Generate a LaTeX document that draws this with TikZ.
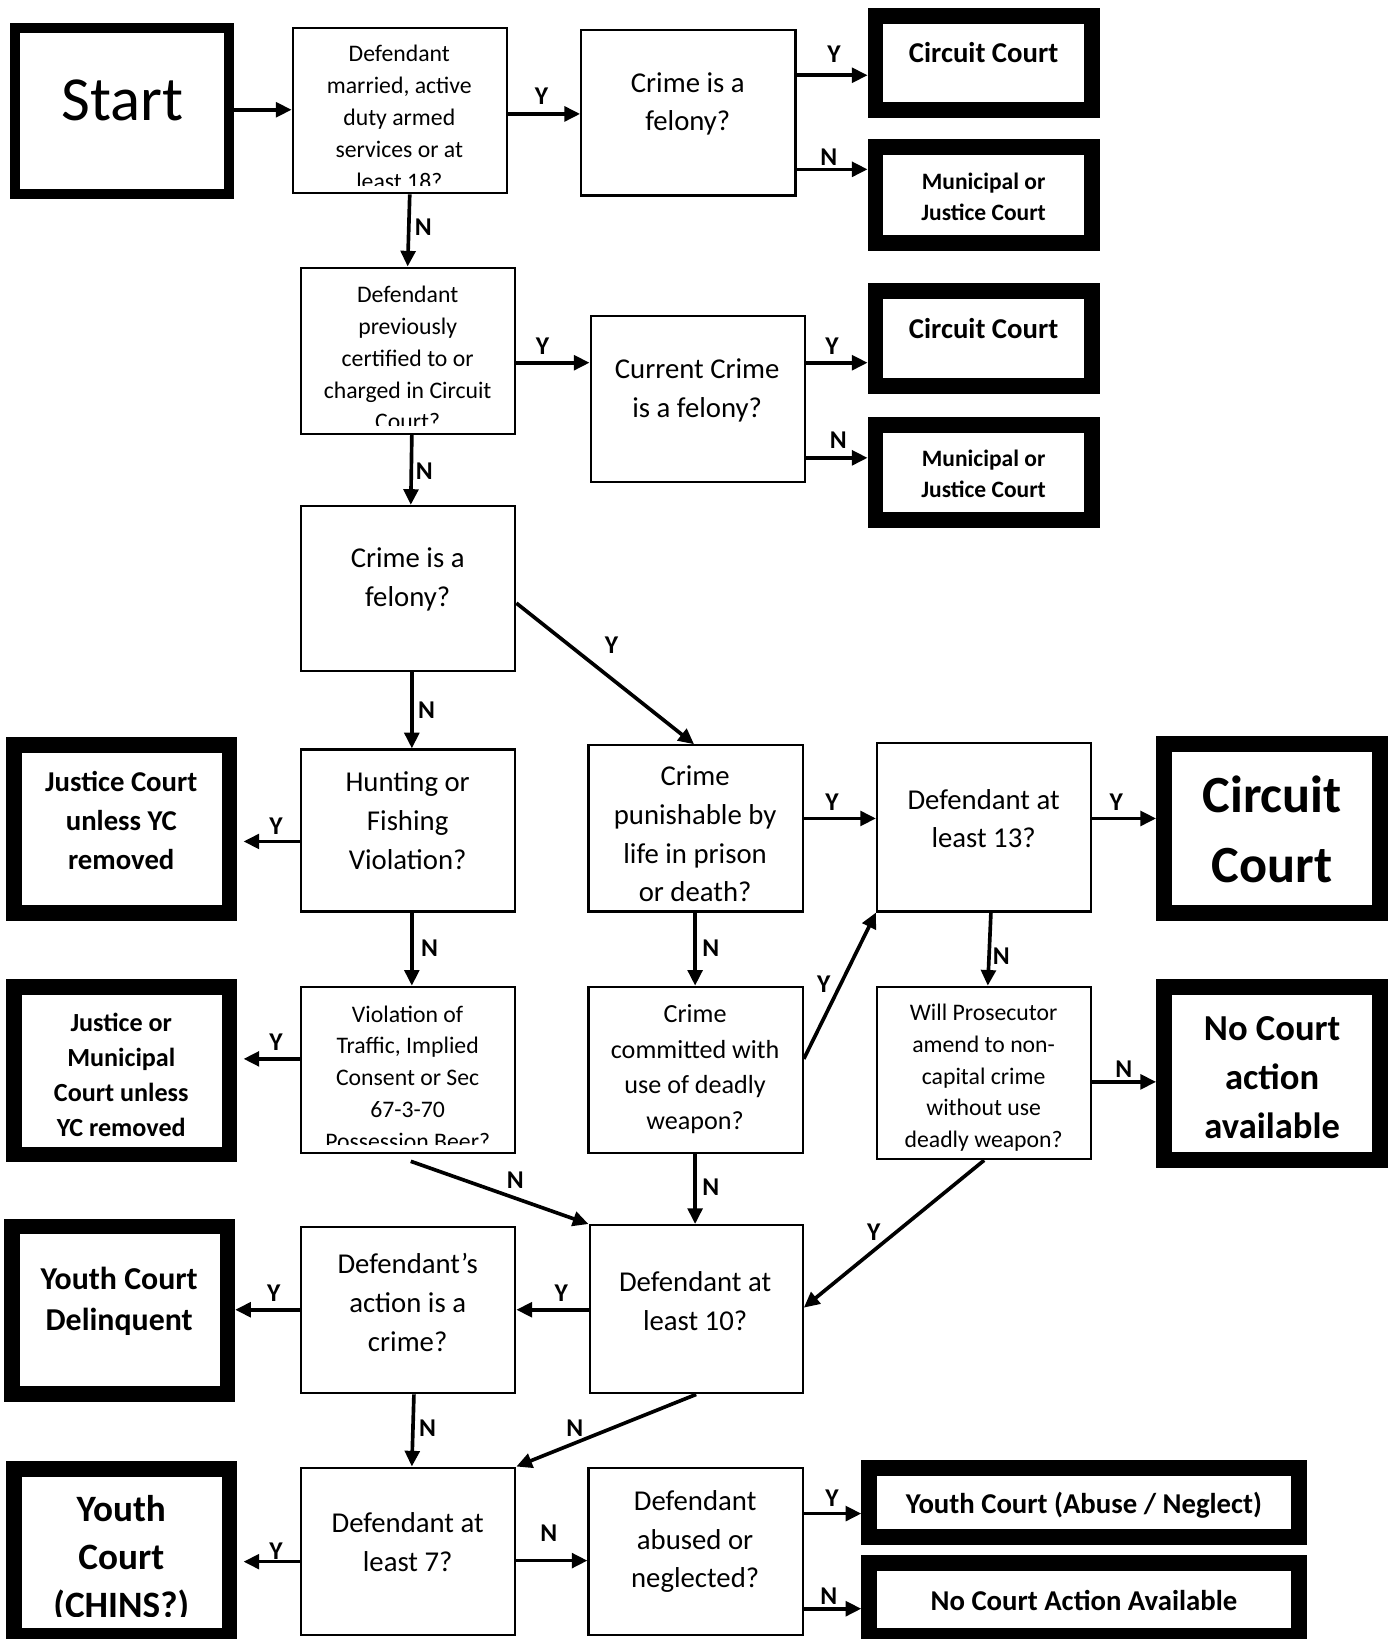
\documentclass[tikz,border=0pt]{standalone}
\usepackage{fontspec}
\setmainfont{Carlito}
\usetikzlibrary{arrows.meta}
\newcommand\fqS{\fontsize{22.7}{30.5}\selectfont}
\newcommand\fqM{\fontsize{27.5}{37}\selectfont}
\newcommand\fqW{\fontsize{25}{34}\selectfont}
\newcommand\fqL{\fontsize{24.5}{28}\selectfont\bfseries}
\newcommand\fqB[2]{\fontsize{#1}{#2}\selectfont\bfseries}
\newcommand\mkbox[5]{\node[qbox,minimum width={#4-#2-2},minimum height={#5-#3-2}] (#1) at ({(#2+#4)/2},{(#3+#5)/2}) {};}
\newcommand\mkterm[6]{\node[term,line width=#6pt,minimum width={#4-#2-#6},minimum height={#5-#3-#6}] (#1) at ({(#2+#4)/2},{(#3+#5)/2}) {};}
\tikzset{
  qbox/.style={draw,line width=2pt,inner sep=0pt,outer sep=1pt},
  term/.style={draw,inner sep=0pt},
  txt/.style={align=center,inner sep=0pt},
  arr/.style={line width=3.5pt,-{Triangle[length=15pt,width=14pt]}},
  lab/.style={font=\fqL,inner sep=0pt}
}
\begin{document}
\begin{tikzpicture}[x=1pt,y=-1pt]
\fill[white] (0,0) rectangle (1330,1568);
\useasboundingbox (0,0) rectangle (1330,1568);
% decision boxes
\mkbox{b1}{279}{26}{486}{186}
\mkbox{b2}{555}{28}{762}{188}
\mkbox{b3}{287}{255}{494}{416}
\mkbox{b4}{564}{301}{771}{462}
\mkbox{b5}{287}{483}{494}{643}
\mkbox{b6}{287}{716}{494}{873}
\mkbox{b7}{562}{712}{769}{873}
\mkbox{b8}{287}{943}{494}{1104}
\mkbox{b9}{838}{710}{1045}{873}
\mkbox{b10}{562}{943}{769}{1104}
\mkbox{b11}{838}{943}{1045}{1110}
\mkbox{b12}{563}{1171}{769}{1334}
\mkbox{b13}{287}{1173}{494}{1334}
\mkbox{b14}{287}{1403}{494}{1565}
\mkbox{b15}{562}{1403}{769}{1565}
% terminal boxes
\mkterm{start}{10}{22}{224}{190}{9.5}
\mkterm{t1}{830}{8}{1052}{113}{15}
\mkterm{t2}{830}{133}{1052}{240}{15}
\mkterm{t3}{830}{271}{1052}{377}{15}
\mkterm{t4}{830}{399}{1052}{505}{15}
\mkterm{t5}{6}{705}{227}{881}{15}
\mkterm{t6}{6}{937}{227}{1112}{15}
\mkterm{t7}{1106}{704}{1328}{881}{15}
\mkterm{t8}{1106}{937}{1328}{1117}{15}
\mkterm{t9}{4}{1166}{225}{1341}{15}
\mkterm{t10}{6}{1398}{227}{1572}{15}
\mkterm{t11}{824}{1397}{1250}{1478}{15}
\mkterm{t12}{824}{1488}{1250}{1572}{15}
% texts
\node[txt,font=\fontsize{60}{70}\selectfont] (startt) at (117,96) {Start};
\begin{scope}
\clip (281,28) rectangle (484,177);
\node[txt,font=\fqS] (b1t) at (382,112.5) {Defendant\\married, active\\duty armed\\services or at\\least 18?};
\end{scope}
\node[txt,font=\fqM] (b2t) at (658,99.5) {Crime is a\\felony?};
\begin{scope}
\clip (289,257) rectangle (492,407);
\node[txt,font=\fqS] (b3t) at (390,342.5) {Defendant\\previously\\certified to or\\charged in Circuit\\Court?};
\end{scope}
\node[txt,font=\fqM] (b4t) at (667,373.5) {Current Crime\\is a felony?};
\node[txt,font=\fqM] (b5t) at (390,554) {Crime is a\\felony?};
\node[txt,font=\fqM] (b6t) at (390,785) {Hunting or\\Fishing\\Violation?};
\node[txt,font=\fqM] (b7t) at (665,798) {Crime\\punishable by\\life in prison\\or death?};
\begin{scope}
\clip (289,945) rectangle (492,1095);
\node[txt,font=\fqS] (b8t) at (390,1031) {Violation of\\Traffic, Implied\\Consent or Sec\\67-3-70\\Possession Beer?};
\end{scope}
\node[txt,font=\fqM] (b9t) at (941,783) {Defendant at\\least 13?};
\node[txt,font=\fqW] (b10t) at (665,1023) {Crime\\committed with\\use of deadly\\weapon?};
\node[txt,font=\fqS] (b11t) at (941,1031) {Will Prosecutor\\amend to non-\\capital crime\\without use\\deadly weapon?};
\node[txt,font=\fqM] (b12t) at (665,1245) {Defendant at\\least 10?};
\node[txt,font=\fqM] (b13t) at (390,1246) {Defendant’s\\action is a\\crime?};
\node[txt,font=\fqM] (b14t) at (390,1475) {Defendant at\\least 7?};
\node[txt,font=\fqM] (b15t) at (665,1475) {Defendant\\abused or\\neglected?};
\node[txt,font=\fqB{27.5}{37}] (t1t) at (941,50) {Circuit Court};
\node[txt,font=\fqB{22.5}{30}] (t2t) at (941,188.5) {Municipal or\\Justice Court};
\node[txt,font=\fqB{27.5}{37}] (t3t) at (941,314) {Circuit Court};
\node[txt,font=\fqB{22.5}{30}] (t4t) at (941,453) {Municipal or\\Justice Court};
\node[txt,font=\fqB{27.5}{37}] (t5t) at (116,785) {Justice Court\\unless YC\\removed};
\node[txt,font=\fqB{25}{33.5}] (t6t) at (116,1028) {Justice or\\Municipal\\Court unless\\YC removed};
\node[txt,font=\fqB{50}{67}] (t7t) at (1217,793) {Circuit\\Court};
\node[txt,font=\fqB{35}{47}] (t8t) at (1217,1031) {No Court\\action\\available};
\node[txt,font=\fqB{30.5}{40}] (t9t) at (114,1245) {Youth Court\\Delinquent};
\begin{scope}
\clip (21,1413) rectangle (212,1546);
\node[txt,font=\fqB{35.6}{46}] (t10t) at (116,1492) {Youth\\Court\\(CHINS?)};
\end{scope}
\node[txt,font=\fqB{27.5}{37}] (t11t) at (1037,1440) {Youth Court (Abuse / Neglect)};
\node[txt,font=\fqB{27.5}{37}] (t12t) at (1037,1531) {No Court Action Available};
% connectors
\draw[arr] (start.east |- 0,105) -- (b1.west |- 0,105);
\draw[arr] (b1.east |- 0,109) -- (b2.west |- 0,109);
\draw[arr] (b2.east |- 0,72) -- (t1.west |- 0,72);
\draw[arr] (b2.east |- 0,162) -- (t2.west |- 0,162);
\draw[arr] (b1.south -| 392,0) -- (b3.north -| 390,0);
\draw[arr] (b3.east |- 0,347) -- (b4.west |- 0,347);
\draw[arr] (b4.east |- 0,347) -- (t3.west |- 0,347);
\draw[arr] (b4.east |- 0,438) -- (t4.west |- 0,438);
\draw[arr] (b3.south -| 394,0) -- (b5.north -| 393,0);
\draw[arr] (b5.east |- 0,577) -- (b7.north -| 664,0);
\draw[arr] (b5.south -| 394,0) -- (b6.north -| 394,0);
\draw[arr,shorten >=6pt] (b6.west |- 0,805) -- (t5.east |- 0,805);
\draw[arr] (b6.south -| 394,0) -- (b8.north -| 394,0);
\draw[arr] (b7.east |- 0,783) -- (b9.west |- 0,783);
\draw[arr] (b7.south -| 665,0) -- (b10.north -| 665,0);
\draw[arr] (b9.east |- 0,783) -- (t7.west |- 0,783);
\draw[arr] (b9.south -| 948,0) -- (b11.north -| 945,0);
\draw[arr,shorten >=6pt] (b8.west |- 0,1013) -- (t6.east |- 0,1013);
\draw[arr] (393,1111) -- (b12.north west);
\draw[arr] (b10.east |- 0,1013) -- (b9.south west);
\draw[arr] (b10.south -| 665,0) -- (b12.north -| 665,0);
\draw[arr] (b11.east |- 0,1035) -- (t8.west |- 0,1035);
\draw[arr] (b11.south) -- (b12.east |- 0,1251);
\draw[arr] (b12.west |- 0,1253) -- (b13.east |- 0,1253);
\draw[arr] (b13.west |- 0,1253) -- (t9.east |- 0,1253);
\draw[arr] (b13.south -| 396,0) -- (b14.north -| 394,0);
\draw[arr] (b12.south) -- (b14.north east);
\draw[arr,shorten >=6pt] (b14.west |- 0,1494) -- (t10.east |- 0,1494);
\draw[arr] (b14.east |- 0,1493) -- (b15.west |- 0,1493);
\draw[arr] (b15.east |- 0,1448) -- (t11.west |- 0,1448);
\draw[arr] (b15.east |- 0,1539) -- (t12.west |- 0,1539);
% labels
\node[lab] (l1) at (518,92) {Y};
\node[lab] (l2) at (798,52) {Y};
\node[lab] (l3) at (793,150) {N};
\node[lab] (l4) at (405,217) {N};
\node[lab] (l5) at (519,331) {Y};
\node[lab] (l6) at (796,331) {Y};
\node[lab] (l7) at (802,421) {N};
\node[lab] (l8) at (406,451) {N};
\node[lab] (l9) at (585,617) {Y};
\node[lab] (l10) at (408,679) {N};
\node[lab] (l11) at (264,790) {Y};
\node[lab] (l12) at (411,907) {N};
\node[lab] (l13) at (796,767) {Y};
\node[lab] (l14) at (680,907) {N};
\node[lab] (l15) at (1068,767) {Y};
\node[lab] (l16) at (958,915) {N};
\node[lab] (l17) at (264,997) {Y};
\node[lab] (l18) at (493,1129) {N};
\node[lab] (l19) at (788,942) {Y};
\node[lab] (l20) at (680,1136) {N};
\node[lab] (l21) at (1075,1023) {N};
\node[lab] (l22) at (836,1179) {Y};
\node[lab] (l23) at (537,1237) {Y};
\node[lab] (l24) at (262,1237) {Y};
\node[lab] (l25) at (409,1366) {N};
\node[lab] (l26) at (550,1366) {N};
\node[lab] (l27) at (264,1484) {Y};
\node[lab] (l28) at (525,1467) {N};
\node[lab] (l29) at (796,1433) {Y};
\node[lab] (l30) at (793,1527) {N};
\end{tikzpicture}
\end{document}
